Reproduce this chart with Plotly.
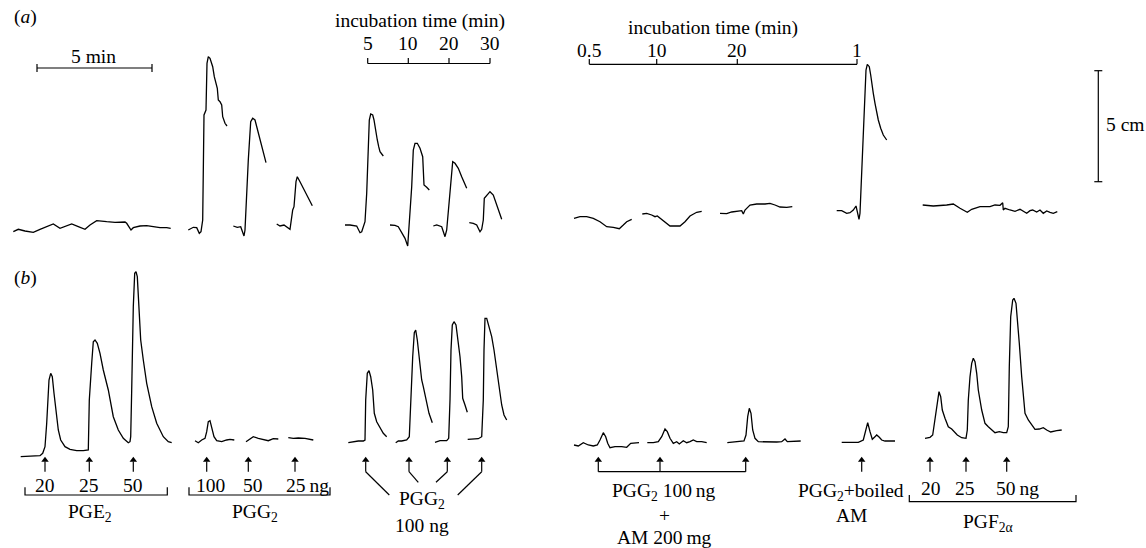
import plotly.graph_objects as go

# ---------------- data: traces (canvas units, y downward) -------------
# panel (a)
a_base_x = [13.3,18.3,25,33.3,40,46.7,53.3,60,66.7,71.7,78.3,85,90,96.7,106.7,115,125,126.7,131,133.3,140,146.7,153.3,160,166.7,170.7]
a_base_y = [231.7,229.3,231,232.3,229.3,226.7,224,228.3,226,224,226.7,229.3,225,220.7,221.7,222.3,222,223.3,230,227.7,226,225.7,226.7,227.7,227.7,228.3]
a_p1_x = [188.3,193.3,196.7,199.3,201,202.7,204,206,207,208.3,210,212.7,214.3,216,217.3,218.3,220,221.7,222.7,225,227]
a_p1_y = [230,227.3,227.7,233.3,231.7,220,115,110,63.3,56.7,58.3,66.7,76.7,83.3,88.3,100,101.7,105,116.7,123.3,126]
a_p2_x = [233.3,237.3,240.7,242,244,245,246.7,248.3,250.7,252.7,255,256.7,258.3,260,263.3,266]
a_p2_y = [226,227.3,226.7,230.7,236,230,186.7,160,121.7,118.3,120,126.7,135,140,153.3,162.7]
a_p3_x = [276.7,280,284,286.7,290,292.7,294,296,297.3,300,303.3,306.7,312.3]
a_p3_y = [224,226,225,226.7,229.3,210,206.7,181.7,176.7,181.7,188.3,195,205.7]
a_i1_x = [345,350,356.7,360,361.7,365,366.7,368.3,369.3,370.7,372.7,374,375.7,377.3,378.7,380,383.3]
a_i1_y = [225,225,226,232.7,231.7,221.7,193.3,156.7,120,114,115,120,133.3,140,146.7,151.7,156]
a_i2_x = [390,395,398.3,400,405,407.7,410,411.7,413.3,415,417.3,420,422.7,424,426.7,429.3]
a_i2_y = [225,225.3,226.7,230,238.3,246,216.7,186.7,150,143.3,143.3,148.3,156.7,185,187.3,190]
a_i3_x = [433.3,436.7,441.7,445,446.7,449.3,450.7,452.7,455,458.3,461.7,464.3,466.7]
a_i3_y = [226,225,226.7,236.7,230,200,181.7,161.7,163.3,168.3,176.7,183.3,188.3]
a_i4_x = [469.3,473.3,476.7,480,481.7,483.3,484.3,487.3,490,493.3,496.7,499.3,501.7]
a_i4_y = [222.7,223.3,225,231.7,229.3,220,198.3,195,191.7,195,205,213.3,219.3]
a_am1_x = [574,580,586.7,593.3,600,606.7,613.3,619.3,623.3,626.7,631.7]
a_am1_y = [218.3,216.7,216.7,218.3,221.7,226.7,227.3,228.7,225,221.7,219.3]
a_am2_x = [642.3,646.7,651.7,655,657.3,660,665,670,680,685,690,696.7,701.7]
a_am2_y = [214,213.3,215,216.7,216,218.3,221.7,226,226,221.7,216,212.3,211.3]
a_am3_x = [720,726.7,731.7,736.7,741.7,743.3,745,750,756.7,765,770,775,780,786.7,792.3]
a_am3_y = [213.3,213.7,212,211.3,210.7,214,210,205,204,204,203.3,205,207,207.3,206.7]
a_big_x = [836.7,841.7,846.7,850,853.3,856,857.3,859,860,861.7,863.3,865,866,867.3,869.3,870.7,872.3,873.3,875,876.7,878.3,880.7,883.3,886.7]
a_big_y = [210.7,210.7,213.3,212.7,210,206,211.7,219.3,213.3,173.3,133.3,93.3,70,64.3,66.7,75,88.3,93.3,103.3,113.3,120,128.3,135,140]
a_flat_x = [922.7,933.3,946.7,953.3,960,967.3,971.7,980,990,995,1000,1002.7,1003.3,1005,1010,1015,1020,1026.7,1030,1032.7,1036.7,1040,1043.3,1046.7,1050,1053.3,1057.3]
a_flat_y = [205,206,205,204,208.3,212.3,209.3,206.7,206.7,205,205.3,202.7,210,208.3,210,211.3,209.3,213.3,210.7,210,212,210,213.3,211,212.3,213.3,211.7]

# panel (b)
b_pge_x = [20.7,30,40,42.7,45,46.7,47.7,49,50.7,52.3,54,56,58.3,60.7,65,70,76.7,83.3,87.3,88.3,89.3,90.7,91.7,93.3,95,97.3,100,103.3,108.3,113.3,118.3,123.3,128.3,130,130.7,131.7,133.3,134.7,136,137.3,138.3,139.3,140.7,143.3,146.7,151.7,156.7,163.3,168.3,171.7]
b_pge_y = [456.7,456,455.7,453.3,446.7,423.3,400,380,373.3,376.7,393.3,413.3,430,440,446.7,449.3,450.7,450.7,450,450,400,370,363.3,341.7,340,343.3,353.3,370,390,416.7,430,438.3,442.7,441.7,436.7,390,306.7,273.3,271.7,276.7,300,323.3,340,360,383.3,406.7,423.3,436.7,441.7,442.7]
b_pgg1_x = [195,198.3,201.7,205,206.7,208.3,210,211.7,214,216.7,221.7,226.7,230,234.3]
b_pgg1_y = [440.7,442.7,440,438.3,431.7,421.7,420.7,426.7,436.7,440.7,441.7,440,439.3,440]
b_pgg2_x = [246,249.3,253.3,258.3,263.3,268.3,273.3,278.3]
b_pgg2_y = [441.7,439.3,436.7,438.3,439.3,440.7,438.7,439]
b_pgg3_x = [288.3,293.3,298.3,305,313.3]
b_pgg3_y = [437.7,438.3,438,438.3,440]
b_h1_x = [348.3,353.3,358.3,363.3,365,365.7,367.3,369,370.7,372.7,374.3,376.7,380,383.3,386.7]
b_h1_y = [442.7,441.7,441,441,440,400,373.3,370.7,376.7,390,413.3,421.7,428.3,433.3,436.7]
b_h2_x = [395.7,398.3,401.7,406.7,409.3,410.7,412.7,414.3,415.7,417.3,419.3,421.7,423.3,426,429,432.3]
b_h2_y = [442.7,441,441,440,436.7,400,356.7,332.7,330,340,356.7,380,386.7,400,413.3,422.7]
b_h3_x = [435,440,446.7,448.7,450,451,452.3,454,456,457.7,460,461.7,462.7,465,467.3]
b_h3_y = [442.3,440.7,440.7,438.3,400,350,325,321.7,325,336.7,356.7,376.7,398.3,405,412.3]
b_h4_x = [467.7,473.3,478.3,481.7,483.3,484,485,486.7,489.3,491.7,494,496.7,499.3,501.7,504,506.7]
b_h4_y = [439.3,439.3,438.7,436.7,400,350,318.3,318.3,326.7,336.7,350,370,390,405,415,420]
b_am1_x = [574,578.3,583.3,588.3,593.3,597.3,600,603.3,605.7,607.7,610,615,621.7,626.7,630.7,635,639]
b_am1_y = [445,446,442.7,445,446,445,440,432.7,436.7,443.3,447.7,446.7,446.7,447.3,443.3,442.7,442.7]
b_am2_x = [647.3,653.3,658.3,661.7,665,667.3,670,673.3,676.7,679.3,683.3,686.7,690,693.3,696.7,701.7,706.7]
b_am2_y = [442.7,442.7,441.7,436.7,429,431.7,438.3,443.3,441.7,444,440.7,442.7,441.7,440,441.7,441.7,442.7]
b_am3_x = [727.3,733.3,740,744,746,747.7,749.3,751,752.7,755,758.3,766.7,776.7,781.7,785,787.3,793.3,800.7]
b_am3_y = [442.7,442.3,441.7,441,435,416.7,408.3,413.3,430,438.3,441.7,442,442,441.7,439,441.7,441.7,441]
b_boil_x = [841.7,850,858.3,863.3,865.7,867.7,870,872.3,875,876.7,879.3,881.7,885,890,895]
b_boil_y = [442.3,442.3,442.3,440,430,422.7,431.7,439.3,436.7,435,437.3,440,441,441,441]
b_pgf_x = [925,930,932.7,934.3,936,937.7,939,940.7,942.3,945,948.3,951.7,954,957.3,961.7,966,967.3,968.3,970,971.7,973.3,975,976.7,978.3,981.7,985,988.3,991.7,995,999.3,1003.3,1006.7,1008.3,1009.3,1010.7,1012.7,1014,1016,1017.3,1019.3,1021.7,1023.3,1025,1028.3,1031.7,1035,1039.3,1043.3,1046.7,1050.7,1056.7,1061.7]
b_pgf_y = [438.3,437.3,435,423.3,410,396.7,391.7,396.7,410,418.3,426.7,429,431.7,435,437.7,438.3,430,400,376.7,363.3,358.3,361.7,373.3,390,410,423.3,426.7,430,432.7,431.7,432.7,432.7,426.7,366.7,316.7,300,298.3,303.3,316.7,343.3,376.7,393.3,413.3,420,425,429.3,429,427.7,430,432,430.7,430]

# tick labels / dose labels
inc1_labels = ["5", "10", "20", "30"]
inc1_ticks = [367.7, 408.3, 449, 490]
inc2_labels = ["0.5", "10", "20", "1"]
inc2_ticks = [589.3, 656.7, 737.3, 857]
pge_doses = ["20", "25", "50"]
pge_arrows = [45, 89.3, 133.3]
pgg_doses = ["100", "50", "25\u2009ng"]
pgg_arrows = [206.7, 248.3, 295]
h_arrows = [365.7, 409, 447.3, 481.7]
am_arrows = [598.3, 660, 745.7]
boil_arrows = [861.7]
pgf_doses = ["20", "25", "50\u2009ng"]
pgf_arrows = [930, 966, 1006.7]

# ---------------- figure ----------------
LW = 1.3
K = "black"
FONT = "Liberation Serif, Times New Roman, serif"
FS = 19.5
fig = go.Figure()

def line(x, y, w=LW):
    fig.add_trace(go.Scatter(x=x, y=y, mode="lines", line=dict(color=K, width=w),
                             hoverinfo="skip", showlegend=False))

for xs, ys in [(a_base_x, a_base_y), (a_p1_x, a_p1_y), (a_p2_x, a_p2_y), (a_p3_x, a_p3_y),
               (a_i1_x, a_i1_y), (a_i2_x, a_i2_y), (a_i3_x, a_i3_y), (a_i4_x, a_i4_y),
               (a_am1_x, a_am1_y), (a_am2_x, a_am2_y), (a_am3_x, a_am3_y), (a_big_x, a_big_y),
               (a_flat_x, a_flat_y),
               (b_pge_x, b_pge_y), (b_pgg1_x, b_pgg1_y), (b_pgg2_x, b_pgg2_y), (b_pgg3_x, b_pgg3_y),
               (b_h1_x, b_h1_y), (b_h2_x, b_h2_y), (b_h3_x, b_h3_y), (b_h4_x, b_h4_y),
               (b_am1_x, b_am1_y), (b_am2_x, b_am2_y), (b_am3_x, b_am3_y), (b_boil_x, b_boil_y),
               (b_pgf_x, b_pgf_y)]:
    line(xs, ys)

ann = []
def text(x, y, s, size=FS, xanchor="center"):
    ann.append(dict(x=x, y=y, xref="x", yref="y", text=s, showarrow=False, xanchor=xanchor,
                    yanchor="middle", font=dict(family=FONT, size=size, color=K)))

TIP, TAIL = 458.5, 471.7
def arrows(xs):
    for x in xs:
        line([x, x], [TAIL, TIP + 3], 1.2)
    fig.add_trace(go.Scatter(x=list(xs), y=[TIP + 1.5] * len(xs), mode="markers",
                             marker=dict(symbol="triangle-up", size=6.5, color=K,
                                         line=dict(width=0)),
                             hoverinfo="skip", showlegend=False))

# panel labels
text(25, 17, "(<i>a</i>)")
text(25, 278, "(<i>b</i>)")

# 5 min scale bar
line([37, 152], [68, 68], 1.2)
line([37, 37], [64, 72], 1.2)
line([152, 152], [64, 72], 1.2)
text(93, 56, "5 min")

# incubation time scale 1
text(420, 21, "incubation time (min)")
line([inc1_ticks[0], inc1_ticks[-1]], [63.5, 63.5], 1.2)
for t, l in zip(inc1_ticks, inc1_labels):
    line([t, t], [58, 63.5], 1.2)
    text(t, 43, l)

# incubation time scale 2
text(713, 28, "incubation time (min)")
line([inc2_ticks[0], inc2_ticks[-1]], [64.3, 64.3], 1.2)
for t, l in zip(inc2_ticks, inc2_labels):
    line([t, t], [59, 64.3], 1.2)
    text(t, 50, l)

# 5 cm scale bar
line([1098.3, 1098.3], [70.7, 181.7], 1.2)
line([1094.3, 1102.3], [70.7, 70.7], 1.2)
line([1094.3, 1102.3], [181.7, 181.7], 1.2)
text(1104, 124, "5 cm", xanchor="left")

# PGE2 group
arrows(pge_arrows)
for x, l in zip(pge_arrows, pge_doses):
    text(x, 485, l)
line([25, 25, 167.3, 167.3], [487.3, 495, 495, 487.3], 1.2)
text(90, 513, "PGE<sub>2</sub>")

# PGG2 dose group
arrows(pgg_arrows)
for x, l in zip([210, 253.3, 307], pgg_doses):
    text(x, 485, l)
line([189, 189, 330, 330], [487.3, 495, 495, 487.3], 1.2)
text(255, 513, "PGG<sub>2</sub>")

# PGG2 100 ng repeated
tails = [(389.3, 495), (418.3, 482.3), (436, 482.3), (457.7, 495)]
for x, (tx, ty) in zip(h_arrows, tails):
    line([tx, x], [ty, TAIL], 1.2)
arrows(h_arrows)
text(421.7, 500, "PGG<sub>2</sub>")
text(421.7, 525, "100 ng")

# PGG2 + AM
arrows(am_arrows)
line([am_arrows[0], am_arrows[-1]], [TAIL, TAIL], 1.2)
text(664, 491.5, "PGG<sub>2</sub> 100\u2009ng")
text(664, 515, "+")
text(664, 537, "AM 200\u2009mg")

# boiled AM
arrows(boil_arrows)
text(851, 491.5, "PGG<sub>2</sub>+boiled")
text(851, 515, "AM")

# PGF2a
arrows(pgf_arrows)
for x, l in zip([931, 965, 1017], pgf_doses):
    text(x, 488.3, l)
line([909.3, 909.3, 1076, 1076], [495, 501.7, 501.7, 495], 1.2)
text(988.3, 523, "PGF<sub>2\u03b1</sub>")

fig.update_layout(
    width=1146, height=548, margin=dict(l=0, r=0, t=0, b=0),
    paper_bgcolor="white", plot_bgcolor="white", annotations=ann,
    xaxis=dict(range=[0, 1146], visible=False, fixedrange=True),
    yaxis=dict(range=[548, 0], visible=False, fixedrange=True),
    showlegend=False,
)
fig.write_html("out.html", config={"displayModeBar": False, "staticPlot": True},
               post_script="document.body.style.margin='0px';document.body.style.overflow='hidden';")
